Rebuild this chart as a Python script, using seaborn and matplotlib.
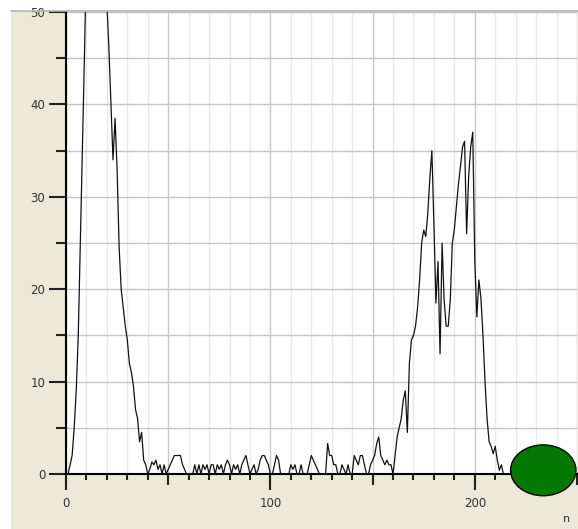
import numpy as np
import pandas as pd
import matplotlib
matplotlib.use("Agg")
import matplotlib.pyplot as plt
import seaborn as sns
from matplotlib.patches import Rectangle, Ellipse
from matplotlib.lines import Line2D
from matplotlib.ticker import MultipleLocator, NullFormatter

# valores (contagem por n)
pico_esq = [0, 0, 1, 2, 5, 9, 15, 25, 35, 45, 56, 66, 75, 82, 86, 85, 80, 72, 64, 57,
            51, 46, 40, 34, 38.5, 33, 24.5, 20, 18, 16, 14.5, 12, 11, 9.5, 7, 6, 3.5, 4.5, 1.5, 1]
ruido = [0, 0.5, 1.3, 1, 1.5, 0.5, 1, 0, 1, 0, 0.5, 1, 1.5, 2, 2, 2, 2, 1, 0.5, 0,
         0, 0, 0, 1, 0, 1, 0, 1, 0.5, 1, 0, 1, 1, 0, 1, 0.5, 1, 0, 1, 1.5,
         1, 0, 1, 0.5, 1, 0, 1, 1.5, 2, 1, 0, 0.5, 1, 0, 0.5, 1.5, 2, 2, 1.5, 1,
         0, 0, 1, 2, 1.5, 0, 0, 0, 0, 0, 1, 0.5, 1, 0, 0, 1, 0, 0, 0, 1,
         2, 1.5, 1, 0.5, 0, 0, 0, 0, 3.3, 2, 2, 1, 1, 0, 0, 1, 0.5, 0, 1, 0,
         0, 2, 1.5, 1, 2, 2, 1, 0, 0, 1, 1.5, 2, 3.3, 4, 2, 1.5, 1, 1.5, 1, 1]
pico_dir = [0, 2, 4, 5, 6, 8, 9, 4.5, 12, 14.5, 15, 16, 18, 21, 25, 26.4, 25.7, 28.2, 32, 35,
            27, 18.5, 23, 13, 25, 18.8, 16, 16, 18.8, 25, 26.5, 29, 31.4, 33.3, 35.4, 36, 26, 32.2, 35.4, 37,
            23, 17, 21, 19, 15, 10, 6, 3.5, 3, 2.2, 3, 1.5, 0.4, 1, 0]
cauda = [0] * 36

contagem = pico_esq + ruido + pico_dir + cauda
n = np.arange(len(contagem))
df = pd.DataFrame({"n": n, "contagem": contagem})

bege = "#ECE9D8"
fig = plt.figure(figsize=(5.78, 5.29), dpi=100, facecolor="white")
fig.add_artist(Rectangle((11 / 578, 0), 1, 518 / 529, transform=fig.transFigure,
                         facecolor=bege, edgecolor="none", zorder=-10))
fig.add_artist(Line2D([11 / 578, 1], [518 / 529, 518 / 529], transform=fig.transFigure,
                      color="#b4b4b4", lw=1.2))

ax = fig.add_axes([66 / 578, 55 / 529, 511 / 578, 462 / 529])
ax.set_facecolor("white")

sns.lineplot(data=df, x="n", y="contagem", color="#111111", linewidth=0.9, ax=ax, zorder=3)

ax.set_xlim(0, 250)
ax.set_ylim(0, 50)
ax.set_xlabel("")
ax.set_ylabel("")

# grade
ax.xaxis.set_major_locator(MultipleLocator(50))
ax.xaxis.set_minor_locator(MultipleLocator(10))
ax.yaxis.set_major_locator(MultipleLocator(10))
ax.yaxis.set_minor_locator(MultipleLocator(5))
ax.xaxis.set_major_formatter(NullFormatter())
ax.grid(which="major", axis="x", color="#c8c8c8", lw=1.0)
ax.grid(which="minor", axis="x", color="#e8e8e8", lw=1.0)
ax.grid(which="both", axis="y", color="#c4c4c4", lw=1.0)
ax.set_axisbelow(True)

for s in ["top", "right"]:
    ax.spines[s].set_visible(False)
ax.spines["left"].set_color("black")
ax.spines["bottom"].set_color("black")
ax.spines["left"].set_linewidth(1.5)
ax.spines["bottom"].set_linewidth(1.5)

ax.tick_params(axis="y", which="major", length=12, width=1.5, color="#222222",
               labelsize=8.5, labelcolor="#333333", pad=3)
ax.tick_params(axis="y", which="minor", length=7, width=1.5, color="#222222")
ax.tick_params(axis="x", which="major", length=8, width=1.5, color="#222222")
ax.tick_params(axis="x", which="minor", length=4.5, width=1.5, color="#222222")

sec = ax.secondary_xaxis("bottom")
sec.set_xticks([0, 100, 200])
sec.spines["bottom"].set_visible(False)
sec.tick_params(length=11.5, width=1.5, color="#222222", labelsize=8.5,
                labelcolor="#333333", pad=5)

ax.add_patch(Ellipse((233.5, 0.4), 32, 5.5, facecolor="#037803", edgecolor="black",
                     lw=1.0, clip_on=False, zorder=5))

fig.text(563 / 578, 7 / 529, "n", fontsize=8, color="#333333")

fig.savefig("out.png", dpi=100, facecolor=fig.get_facecolor())
